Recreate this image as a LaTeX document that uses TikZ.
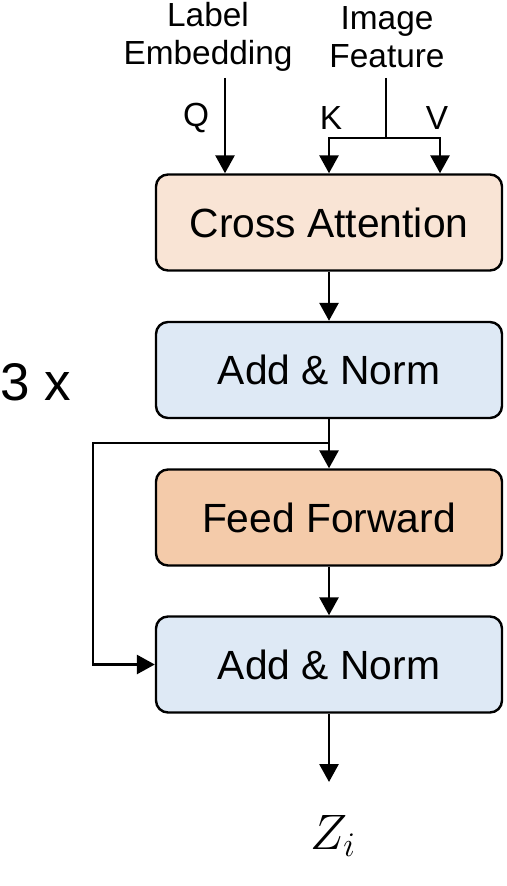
\documentclass[tikz,border=0pt]{standalone}
\usepackage{fontspec}
\setmainfont{Liberation Sans}
\usetikzlibrary{arrows.meta}

\definecolor{caFill}{HTML}{F9E4D5}
\definecolor{anFill}{HTML}{DEE9F5}
\definecolor{ffFill}{HTML}{F4CBAA}

\begin{document}
\begin{tikzpicture}[
        x=0.5pt, y=-0.5pt,
        % Stile dei blocchi: angoli arrotondati e bordo nero
        box/.style={
            draw=black,
            line width=1.2pt,
            rounded corners=6pt,
            minimum width=173pt,
            minimum height=48pt,
            inner sep=0pt,
            font=\fontsize{20.4}{24}\selectfont
        },
        lbl/.style={
            align=center,
            inner sep=0pt,
            font=\fontsize{16.7}{19}\selectfont
        },
        arr/.style={
            line width=1.4pt,
            -{Triangle[length=9pt,width=9.5pt]}
        }
    ]

    \useasboundingbox (0,0) rectangle (507,886);

    % --- Blocchi ---
    \node[box, fill=caFill] (ca)  at (329, 222.5) {Cross Attention};
    \node[box, fill=anFill] (an1) at (329, 370)   {Add \& Norm};
    \node[box, fill=ffFill] (ff)  at (329, 517.5) {Feed Forward};
    \node[box, fill=anFill] (an2) at (329, 664.5) {Add \& Norm};

    % --- Ingressi ---
    \node[lbl] (lab) at (208, 37)  {Label\\Embedding};
    \node[lbl] (img) at (387, 37)  {Image\\Feature};
    \node[lbl] (q)   at (196, 118) {Q};
    \node[lbl] (k)   at (331, 118) {K};
    \node[lbl] (v)   at (437, 118) {V};

    \coordinate (qin)   at (225, 78);
    \coordinate (imgin) at (386, 78);
    \coordinate (split) at (386, 138);
    \coordinate (kin)   at (329, 138);
    \coordinate (vin)   at (440, 138);

    \draw[arr] (qin) -- (qin |- ca.north);
    \draw[line width=1.4pt] (imgin) -- (split);
    \draw[line width=1.4pt, line cap=rect] (kin) -- (vin);
    \draw[arr] (kin) -- (ca.north);
    \draw[arr] (vin) -- (vin |- ca.north);

    % --- Catena centrale ---
    \draw[arr] (ca.south)  -- (an1.north);
    \draw[arr] (an1.south) -- (ff.north);
    \draw[arr] (ff.south)  -- (an2.north);

    % Collegamento residuo
    \coordinate (fork) at (329, 443);
    \coordinate (skip) at (93, 443);
    \draw[arr] (fork) -- (skip) |- (an2.west);

    % --- Uscita ---
    \coordinate (zout) at (329, 782);
    \draw[arr] (an2.south) -- (zout);
    \node[inner sep=0pt, font=\fontsize{26.5}{30}\selectfont] (zi) at (333, 836) {$Z_i$};

    \node[inner sep=0pt, font=\fontsize{26.5}{30}\selectfont] (rep) at (36, 382) {3 x};

\end{tikzpicture}
\end{document}
